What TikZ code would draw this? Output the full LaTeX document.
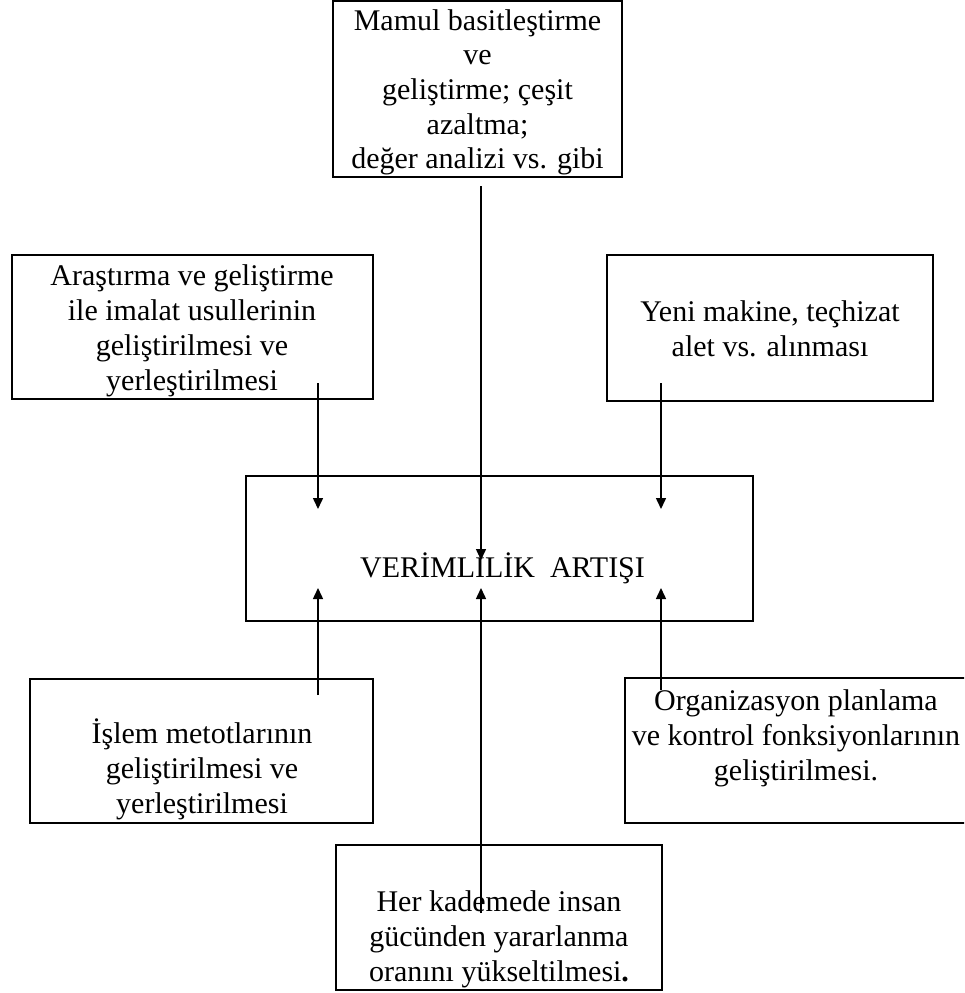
\documentclass[tikz,border=0pt]{standalone}
\usepackage{fontspec}
\setmainfont{Liberation Serif}
\usetikzlibrary{arrows.meta}
\newcommand\capstrut{\rule{0pt}{28pt}}
\begin{document}
\begin{tikzpicture}[x=1pt,y=-1pt,
  frame/.style={draw, rectangle, line width=2.6pt, inner sep=0pt},
  caption/.style={anchor=north, inner sep=0pt, align=center,
                  font=\fontsize{30}{35}\selectfont},
  link/.style={line width=1.5pt, -{Triangle[width=10pt,length=11pt]}}]
\useasboundingbox (0,0) rectangle (964,993);
\clip (0,0) rectangle (964,993);

% frames
\node[frame, minimum width=289pt, minimum height=176.5pt] (mamul) at (477.5,88.75) {};
\node[frame, minimum width=361pt, minimum height=144pt]   (arge)  at (192.5,327) {};
\node[frame, minimum width=326pt, minimum height=146pt]   (yeni)  at (770,328) {};
\node[frame, minimum width=507pt, minimum height=145pt]   (verim) at (499.5,548.5) {};
\node[frame, minimum width=343pt, minimum height=144pt]   (islem) at (201.5,751) {};
\node[frame, minimum width=365pt, minimum height=145pt]   (org)   at (807.5,750.5) {};
\node[frame, minimum width=326pt, minimum height=145pt]   (insan) at (499,917.5) {};

% texts (first baseline sits 28pt below the anchor)
\node[caption, font=\fontsize{30}{34.6}\selectfont] (mamul-t) at (477.5,2)
  {\capstrut Mamul basitleştirme\\ve\\geliştirme; çeşit\\azaltma;\\değer analizi vs. gibi};
\node[caption] (arge-t) at (192,257)
  {\capstrut Araştırma ve geliştirme\\ile imalat usullerinin\\geliştirilmesi ve\\yerleştirilmesi};
\node[caption] (yeni-t) at (770,293)
  {\capstrut Yeni makine, teçhizat\\alet vs. alınması};
\node[caption] (verim-t) at (502.5,549)
  {\capstrut VERİMLİLİK\ \ ARTIŞI};
\node[caption] (islem-t) at (202,715)
  {\capstrut İşlem metotlarının\\geliştirilmesi ve\\yerleştirilmesi};
\node[caption] (org-t) at (796,682)
  {\capstrut Organizasyon planlama\\ve kontrol fonksiyonlarının\\geliştirilmesi.};
\node[caption] (insan-t) at (499,883)
  {\capstrut Her kademede insan\\gücünden yararlanma\\oranını yükseltilmesi\textbf{.}};

% connector ends
\coordinate (mamul-out) at (481,186);
\coordinate (arge-out)  at (318,383);
\coordinate (yeni-out)  at (661,383);
\coordinate (islem-out) at (318,695);
\coordinate (insan-out) at (481,913);
\coordinate (org-out)   at (661,690);
\coordinate (verim-tl)  at (318,509);
\coordinate (verim-tm)  at (481,560);
\coordinate (verim-tr)  at (661,509);
\coordinate (verim-bl)  at (318,588);
\coordinate (verim-bm)  at (481,588);
\coordinate (verim-br)  at (661,588);

% connectors
\draw[link] (mamul-out) -- (verim-tm);
\draw[link] (arge-out)  -- (verim-tl);
\draw[link] (yeni-out)  -- (verim-tr);
\draw[link] (islem-out) -- (verim-bl);
\draw[link] (insan-out) -- (verim-bm);
\draw[link] (org-out)   -- (verim-br);
\end{tikzpicture}
\end{document}
